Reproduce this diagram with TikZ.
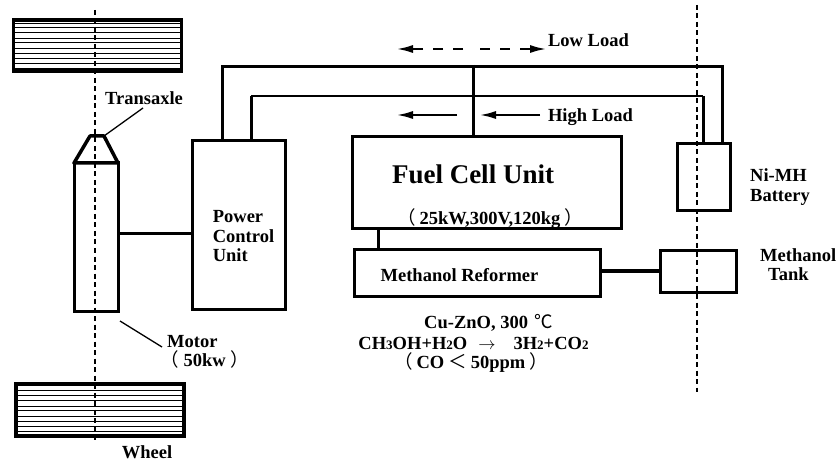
\documentclass[tikz,border=0pt]{standalone}
\usepackage{fontspec}
\setmainfont{Liberation Serif}
\newfontfamily\cjk{Noto Sans CJK JP}
\usetikzlibrary{arrows.meta}
\newcommand{\sbs}[1]{{\fontsize{13}{13}\selectfont #1}}
\newcommand{\cj}[1]{{\cjk\mdseries #1}}
\tikzset{
  unit/.style={draw,line width=3pt,inner sep=0pt,outer sep=0pt},
  wire/.style={line width=3pt},
  axis/.style={line width=1.3pt,dash pattern=on 5pt off 3.5pt},
  lab/.style={inner sep=0pt,font=\fontsize{18.5}{18.5}\selectfont\bfseries},
  flow/.style={line width=2.5pt,-{Latex[length=17pt,width=8pt]}}
}
\begin{document}
\begin{tikzpicture}[x=1pt,y=-1pt]
  \useasboundingbox (0,0) rectangle (837,462);
  \coordinate (OL) at (222,67);\coordinate (OR) at (722,67);
  \coordinate (IL) at (251,96);\coordinate (IR) at (703,96);
  \coordinate (J) at (473,65);\coordinate (R) at (378,240);\coordinate (C) at (0,234);
  \coordinate (T1) at (90,136);\coordinate (T2) at (104,136);
  \coordinate (Tk) at (143,108);\coordinate (Mk) at (120,321);\coordinate (Ml) at (162,347);
  \coordinate (LA) at (463,49);\coordinate (LB) at (396,49);
  \coordinate (LD) at (480,49);\coordinate (LC) at (547,49);
  \coordinate (HA) at (457,115);\coordinate (HB) at (396,115);
  \coordinate (HC) at (540,115);\coordinate (HD) at (479,115);
  \coordinate (AT1) at (95,10);\coordinate (AB1) at (95,442);
  \coordinate (AT2) at (697,5);\coordinate (AB2) at (697,392);
  % wheels
  \foreach\y in {23,27,32,38,42,48,53,58,63,68}\draw[line width=.9pt] (13,\y)--(182,\y);
  \foreach\y in {390,395,400,406,410,416,421,426,431}\draw[line width=.9pt] (16,\y)--(184,\y);
  \node[unit,line width=3.5pt,minimum width=168pt,minimum height=51pt] (WT) at (97.5,45.5) {};
  \node[unit,line width=3.5pt,minimum width=168pt,minimum height=52pt] (WB) at (100,410) {};
  % boxes
  \node[unit,minimum width=44pt,minimum height=148pt] (Motor) at (96,237) {};
  \node[unit,minimum width=93pt,minimum height=168pt] (PCU) at (238.5,225) {};
  \node[unit,minimum width=269pt,minimum height=92pt] (FC) at (486.5,183) {};
  \node[unit,minimum width=246pt,minimum height=47pt] (Ref) at (477,272.5) {};
  \node[unit,minimum width=53pt,minimum height=67pt] (Bat) at (703.5,177.5) {};
  \node[unit,minimum width=76pt,minimum height=42pt] (Tank) at (698,271) {};
  \draw[line width=3.5pt,line join=round] (Motor.north west)--(T1)--(T2)--(Motor.north east)--cycle;
  % wires
  \draw[wire] (PCU.north -| OL)--(OL)--(OR)--(Bat.north -| OR);
  \draw[wire] (PCU.north -| IL)--(IL);
  \draw[line width=2pt] (IL)--(IR);
  \draw[wire] (IR)--(Bat.north -| IR);
  \draw[wire] (J)--(FC.north -| J);
  \draw[wire] (Motor.east |- C)--(PCU.west |- C);
  \draw[wire] (FC.south -| R)--(Ref.north -| R);
  \draw[wire,line width=3.5pt] (Ref.east |- Tank.west)--(Tank.west);
  % axes
  \draw[axis] (AT1)--(AB1);
  \draw[axis] (AT2)--(AB2);
  % arrows
  \draw[flow,dash pattern=on 10pt off 10pt] (LA)--(LB);
  \draw[flow,dash pattern=on 10pt off 10pt] (LD)--(LC);
  \draw[flow] (HA)--(HB);
  \draw[flow] (HC)--(HD);
  \draw[line width=1.3pt] (T2)--(Tk);
  \draw[line width=1.3pt] (Mk)--(Ml);
  % labels
  \node[lab] (tTrans) at (144,98) {Transaxle};
  \node[lab,align=left,font=\fontsize{18.5}{19.5}\selectfont\bfseries] (tPCU) at (243.5,236.5) {Power\\Control\\Unit};
  \node[lab,align=left,anchor=west,font=\fontsize{18.5}{19}\selectfont\bfseries] (tMotor) at (167,352) {Motor\\\hspace*{-7pt}\cj{（}\hspace{5pt}50kw\hspace{5pt}\cj{）}};
  \node[lab] (tWheel) at (147,452) {Wheel};
  \node[lab] (tLow) at (588.5,40) {Low Load};
  \node[lab] (tHigh) at (590.5,117) {High Load};
  \node[lab,font=\fontsize{27}{27}\selectfont\bfseries] (tFC) at (473,174) {Fuel Cell Unit};
  \node[lab] (tFCd) at (490,218.5) {\cj{（}\hspace{4pt}25kW,300V,120kg\hspace{4pt}\cj{）}};
  \node[lab] (tRef) at (459.5,275) {Methanol Reformer};
  \node[lab,anchor=west] (tCu) at (424,323) {Cu-ZnO, 300\hspace{6pt}\cj{℃}};
  \node[lab] (tRe) at (473.5,343) {CH\sbs{3}OH+H\sbs{2}O\hspace*{11pt}$\rightarrow$\hspace*{18pt}3H\sbs{2}+CO\sbs{2}};
  \node[lab] (tCO) at (471,363) {\cj{（}\hspace{4pt}CO\hspace{4pt}\cj{＜}\hspace{4pt}50ppm\hspace{4pt}\cj{）}};
  \node[lab,align=left,anchor=west,font=\fontsize{18.5}{20}\selectfont\bfseries] (tBat) at (750,187) {Ni-MH\\Battery};
  \node[lab,align=left,anchor=west,font=\fontsize{18.5}{19}\selectfont\bfseries] (tTank) at (760,265) {Methanol\\\hspace*{8pt}Tank};
\end{tikzpicture}
\end{document}
